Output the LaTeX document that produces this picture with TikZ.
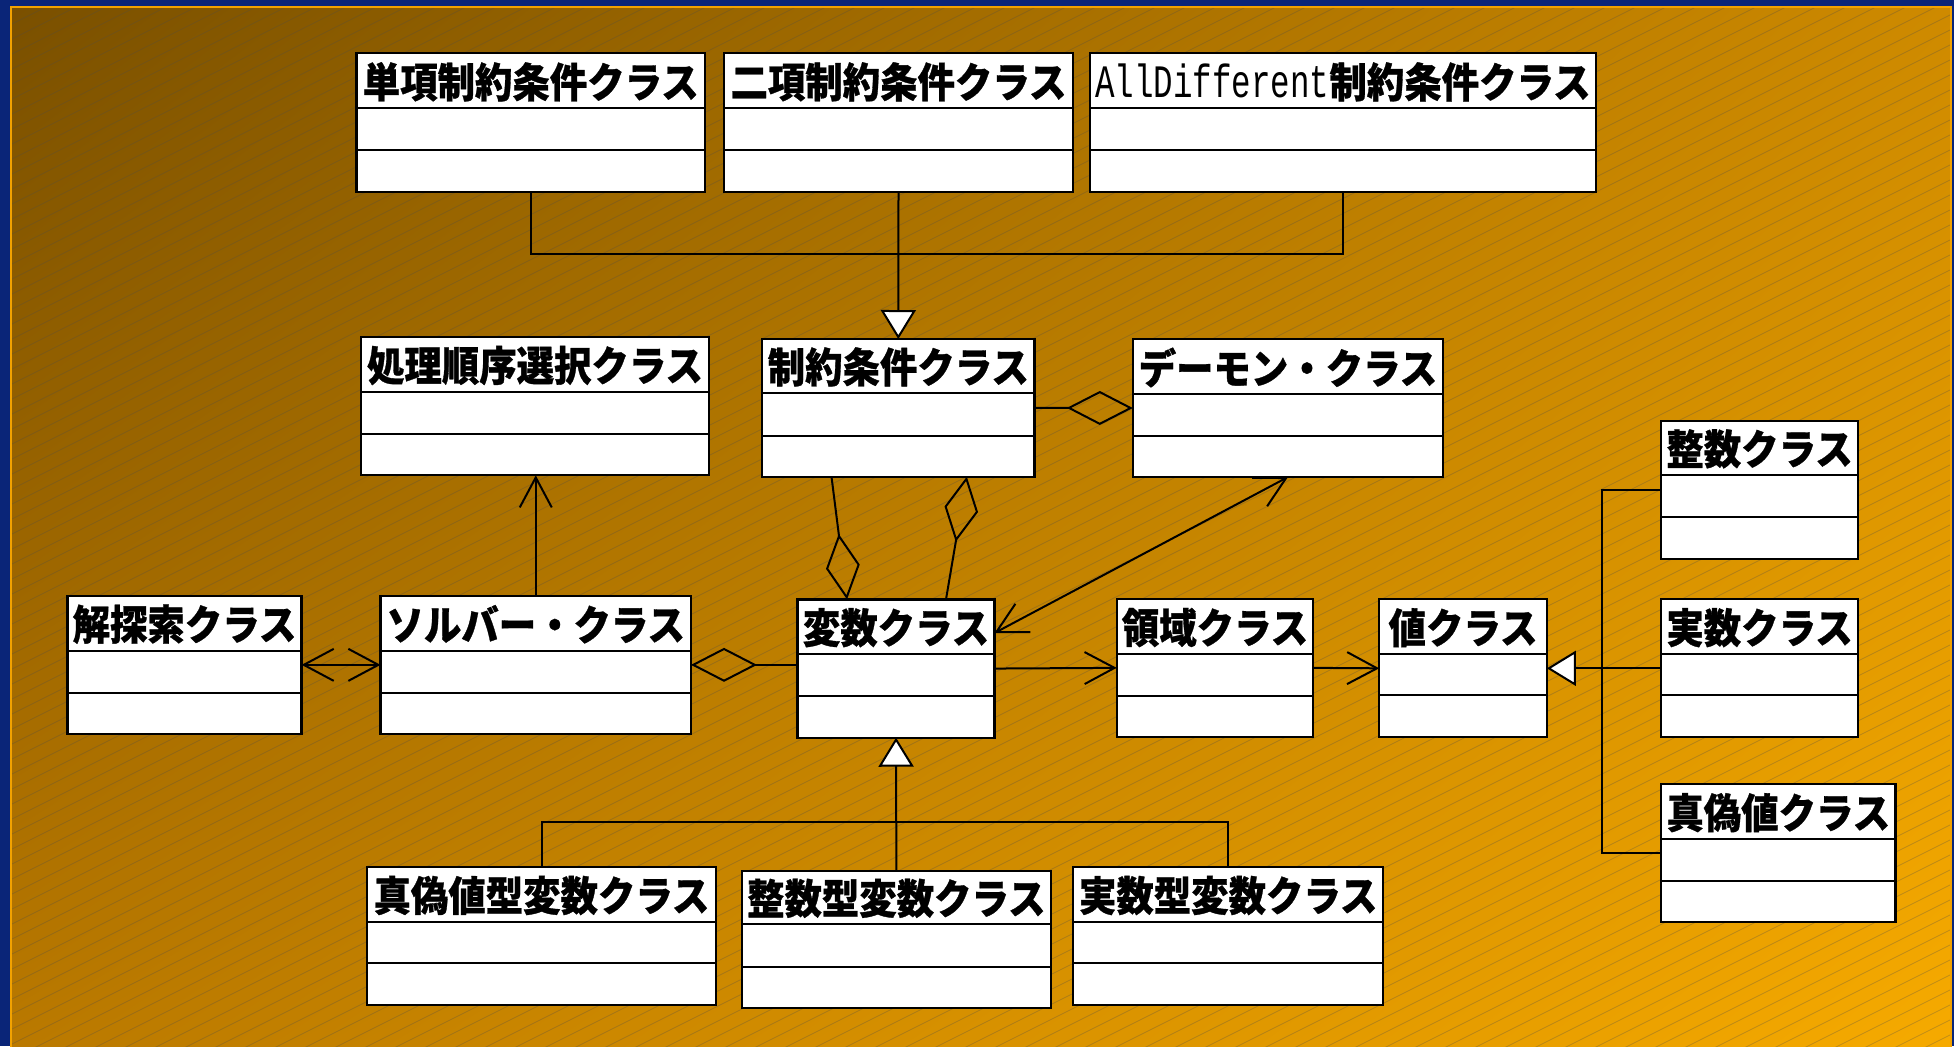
\documentclass[tikz,border=0pt]{standalone}
\usepackage{fontspec}
\usepackage{graphicx}
\usetikzlibrary{arrows.meta,fit,calc,shadings}
\newfontfamily\jpfont{Noto Sans CJK JP}[BoldFeatures={FakeBold=0.8}]
\newfontfamily\monofnt{Liberation Mono}
\definecolor{navy}{RGB}{10,37,120}
\definecolor{bgA}{RGB}{122,80,0}
\definecolor{bgB}{RGB}{246,170,0}
\definecolor{bgC}{RGB}{206,138,0}
\definecolor{bgD}{RGB}{186,121,0}
\definecolor{rim}{RGB}{242,162,0}
\tikzset{
  classbox/.style={draw=black, fill=white, line width=1.15pt, inner sep=0pt, outer sep=0pt},
  divline/.style={draw=black, line width=1.15pt},
  titletext/.style={font=\jpfont\bfseries\fontsize{18.7}{20}\selectfont, inner sep=0pt, text=black},
  conn/.style={draw=black, line width=1pt},
  hatchline/.style={draw=black!70, line width=0.4pt, opacity=0.3},
  navtip/.tip={Straight Barb[length=15pt,width=16pt]},
  aggtip/.tip={Diamond[open,length=33pt,width=17pt]},
  gentip/.tip={Triangle[open,fill=white,length=14.5pt,width=17.5pt]}
}
\newcommand\umlclass[8]{%
  \node[classbox, fit={(#2,#3)(#4,#5)}] (#1) {};
  \draw[divline] (#2,#6) -- (#4,#6) (#2,#7) -- (#4,#7);
  \node[titletext] (#1-t) at ({(#2+#4)/2},{(#3+#6)/2+1}) {\scalebox{1}[1.1]{#8}};
}
\begin{document}
\begin{tikzpicture}[x=0.5pt,y=-0.5pt]
\useasboundingbox (0,0) rectangle (1954,1046);
% background
\fill[navy] (0,0) rectangle (1954,1046);
\shade[upper left=bgA, upper right=bgC, lower left=bgD, lower right=bgB] (12,8) rectangle (1950,1046);
\begin{scope}
  \clip (12,8) rectangle (1950,1046);
  \foreach \c in {0,15,...,2040} \draw[hatchline] (0,\c) -- (1954,\c-977);
\end{scope}
\draw[rim, line width=1pt] (11,1050) -- (11,7) -- (1950.5,7) -- (1950.5,1050);
% classes
\umlclass{uni}{356.5}{53.3}{705}{192}{108.3}{150}{単項制約条件クラス}
\umlclass{bin}{724}{53.3}{1073}{192}{108.3}{150}{二項制約条件クラス}
\umlclass{alld}{1090}{53.3}{1596}{192}{108.3}{150}{{\monofnt\mdseries\fontsize{16.25}{18}\selectfont\scalebox{1}[1.3]{AllDifferent}}制約条件クラス}
\umlclass{proc}{360.7}{337.3}{709.3}{475.3}{391.7}{434}{処理順序選択クラス}
\umlclass{con}{762}{339}{1034.6}{476.7}{392.7}{435.7}{制約条件クラス}
\umlclass{dmn}{1132.8}{339}{1443}{477}{394}{436}{デーモン・クラス}
\umlclass{int}{1661}{420.7}{1858}{558.7}{475}{516.7}{整数クラス}
\umlclass{sol}{67.4}{595.7}{301.6}{734}{650.7}{692.7}{解探索クラス}
\umlclass{solv}{380.5}{595.7}{691}{734}{650.7}{692.7}{ソルバー・クラス}
\umlclass{var}{797.6}{599.4}{994.5}{737.7}{654}{696}{変数クラス}
\umlclass{dom}{1116.7}{599}{1313.3}{736.7}{654}{696}{領域クラス}
\umlclass{val}{1379.2}{599.3}{1546.9}{737.3}{654}{695.3}{値クラス}
\umlclass{real}{1661}{599.3}{1858}{737.3}{654}{695.3}{実数クラス}
\umlclass{bool}{1661}{784.3}{1895.5}{922}{839}{881}{真偽値クラス}
\umlclass{bvar}{366.7}{867.3}{716.3}{1005.3}{921.7}{963.3}{真偽値型変数クラス}
\umlclass{ivar}{741.7}{870.7}{1051}{1008.3}{924}{966.7}{整数型変数クラス}
\umlclass{rvar}{1073.2}{867.3}{1383.2}{1005.3}{921.7}{963.3}{実数型変数クラス}
% generalization to constraint class
\coordinate (jtop) at (898,254);
\draw[conn] (uni.south) |- (jtop) -| (alld.south);
\draw[conn, -{gentip}] (bin.south) -- (con.north);
% solver -> order selection
\draw[conn, -{navtip}] (solv.north) -- (solv.north |- proc.south);
% search <-> solver
\draw[conn, {navtip}-{navtip}] (sol.east) -- (solv.west);
% solver <>- variable
\draw[conn, {aggtip}-] (solv.east) -- (solv.east -| var.west);
% constraint -<> daemon
\draw[conn, -{aggtip}] (con.east) -- (dmn.west);
% constraint / variable aggregations
\draw[conn, -{aggtip}] ($(con.south west)+(69.5,0)$) -- ($(var.north west)+(49.4,0)$);
\draw[conn, {aggtip}-] ($(con.south west)+(204.8,0)$) -- ($(var.north west)+(148.4,0)$);
% variable <-> daemon
\draw[conn, {navtip}-{navtip}] ($(var.north east)+(0,33.6)$) -- ($(dmn.south west)+(155.2,0)$);
% variable -> domain -> value
\draw[conn, -{navtip}] (var.east) -- (dom.west);
\draw[conn, -{navtip}] (dom.east) -- (val.west);
% generalization to value
\coordinate (jv) at (1602.3,668);
\draw[conn, -{gentip}] (real.west) -- (val.east);
\draw[conn] (int.west) -| (jv) |- (bool.west);
% generalization to variable
\coordinate (jb) at (896,821.7);
\draw[conn] (bvar.north) |- (jb) -| (rvar.north);
\draw[conn, -{gentip}] (ivar.north) -- (var.south);
\end{tikzpicture}
\end{document}
